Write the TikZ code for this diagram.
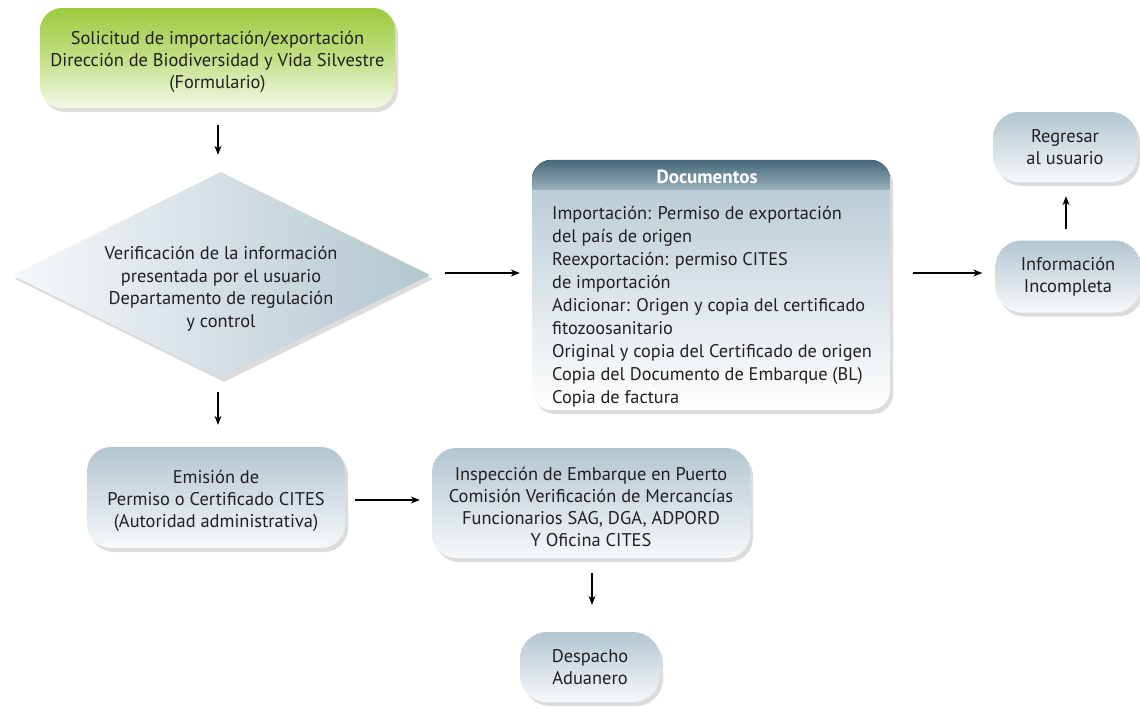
\documentclass[tikz,border=0pt]{standalone}
\usepackage{fontspec}
\setmainfont{PT Sans}
\usetikzlibrary{shapes.geometric,shadows,arrows.meta}
\definecolor{txt}{HTML}{231F20}
\definecolor{grtop}{HTML}{9DCB3C}
\definecolor{grmid}{HTML}{C2DF87}
\definecolor{grbot}{HTML}{F3F9E6}
\definecolor{bltop}{HTML}{B3C6D0}
\definecolor{blbot}{HTML}{F6F8FA}
\definecolor{hdtop}{HTML}{46677A}
\definecolor{hdbot}{HTML}{9AB0BC}
\newcommand\mydn[1]{\rule{0pt}{#1}}
\tikzset{
  shd/.style={drop shadow={shadow xshift=3pt,shadow yshift=-4pt,opacity=0.25,fill=black!55}},
  box/.style={rectangle,shd,top color=bltop,bottom color=blbot,draw=none,
    text=txt,align=center,font=\fontsize{18.4}{22}\selectfont,inner sep=0pt},
  greenbox/.style={box,top color=grtop,bottom color=grbot,middle color=grmid},
  arr/.style={-{Stealth[length=9pt,width=7pt]},line width=1.2pt,draw=black}
}
\begin{document}
\begin{tikzpicture}[x=1pt,y=-1pt]
\useasboundingbox (0,0) rectangle (1140,707);
% nodes
\node[greenbox,minimum width=355,minimum height=100,rounded corners=22] (sol) at (217.5,58)
  {\mydn{20.5pt}Solicitud de importación/exportación\\Dirección de Biodiversidad y Vida Silvestre\\(Formulario)};
\node[box,diamond,left color=blbot,right color=bltop,minimum width=418,minimum height=206] (ver) at (221,275) {};
\node[text=txt,align=center,font=\fontsize{18.4}{22.5}\selectfont] (vertxt) at (221,289)
  {Verificación de la información\\presentada por el usuario\\Departamento de regulación\\y control};
\node[box,minimum width=358,minimum height=250,rounded corners=20,top color=bltop,bottom color=white] (doc) at (711,285) {};
\begin{scope}
\clip[rounded corners=20] (doc.north west) rectangle (doc.south east);
\fill[top color=hdtop,bottom color=hdbot] (doc.north west) rectangle ([yshift=-30pt]doc.north east);
\end{scope}
\node[text=white,font=\fontsize{19}{20}\selectfont\bfseries] (doctitle) at (707,177) {Documentos};
\node[text=txt,align=left,anchor=north west,font=\fontsize{18.3}{23}\selectfont,inner sep=0pt] (doctxt) at (552,206)
  {Importación: Permiso de exportación\\del país de origen\\Reexportación: permiso CITES\\de importación\\Adicionar: Origen y copia del certificado\\fitozoosanitario\\Original y copia del Certificado de origen\\Copia del Documento de Embarque (BL)\\Copia de factura};
\node[box,minimum width=145,minimum height=72,rounded corners=26] (inf) at (1068,276.5) {Información\\Incompleta};
\node[box,minimum width=144,minimum height=70,rounded corners=26] (reg) at (1065,147) {Regresar\\al usuario};
\node[box,minimum width=258,minimum height=101,rounded corners=24] (emi) at (216,497.5) {\mydn{20pt}Emisión de\\Permiso o Certificado CITES\\(Autoridad administrativa)};
\node[box,minimum width=318,minimum height=110,rounded corners=24] (ins) at (591,503) {\mydn{22pt}Inspección de Embarque en Puerto\\Comisión Verificación de Mercancías\\Funcionarios SAG, DGA, ADPORD\\Y Oficina CITES};
\node[box,minimum width=140,minimum height=70,rounded corners=27] (des) at (590,667) {Despacho\\Aduanero};
% connectors
\draw[arr,shorten <=17pt,shorten >=17pt] (sol.south -| 218,0) -- (ver.north -| 218,0);
\draw[arr,shorten <=14pt,shorten >=22pt] (ver.south -| 218,0) -- (emi.north -| 218,0);
\draw[arr,shorten <=15pt,shorten >=12pt] (ver.east |- 0,273) -- (doc.west |- 0,273);
\draw[arr,shorten <=23pt,shorten >=13pt] (doc.east |- 0,273) -- (inf.west |- 0,273);
\draw[arr,shorten <=11pt,shorten >=14pt] (inf.north -| 1066,0) -- (reg.south -| 1066,0);
\draw[arr,shorten <=10pt,shorten >=12pt] (emi.east |- 0,500) -- (ins.west |- 0,500);
\draw[arr,shorten <=15pt,shorten >=27pt] (ins.south -| 592,0) -- (des.north -| 592,0);
\end{tikzpicture}
\end{document}
